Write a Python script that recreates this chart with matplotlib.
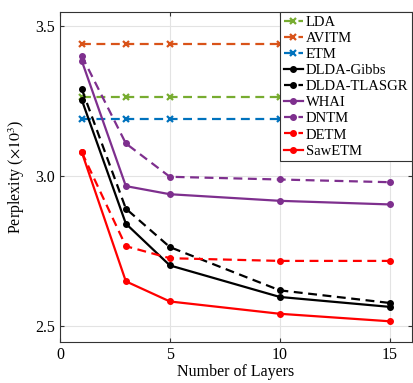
import matplotlib
matplotlib.use('Agg')
import matplotlib.pyplot as plt

plt.rcParams['font.family'] = ['Liberation Serif', 'DejaVu Serif']
plt.rcParams['mathtext.fontset'] = 'stix'

layers = [1, 3, 5, 10, 15]
layers_flat = [1, 3, 5, 10]

lda = [3.264, 3.264, 3.264, 3.264]
avitm = [3.441, 3.441, 3.441, 3.441]
etm = [3.189, 3.189, 3.189, 3.189]
dlda_gibbs = [3.253, 2.842, 2.703, 2.598, 2.565]
dlda_tlasgr = [3.289, 2.892, 2.764, 2.620, 2.578]
whai = [3.383, 2.967, 2.940, 2.918, 2.906]
dntm = [3.400, 3.109, 2.998, 2.989, 2.980]
detm = [3.079, 2.767, 2.727, 2.718, 2.718]
sawetm = [3.079, 2.650, 2.583, 2.542, 2.517]

green = '#77AC30'
orange = '#D95319'
blue = '#0072BD'
purple = '#7E2F8E'

fig = plt.figure(figsize=(4.13, 3.83), dpi=100)
ax = fig.add_axes([0.145, 0.107, 0.852, 0.862])

lw = 1.6
dash = (4, 2.5)
ax.plot(layers_flat, lda, '--x', color=green, lw=lw, ms=5, mew=1.6, dashes=dash, label='LDA')
ax.plot(layers_flat, avitm, '--x', color=orange, lw=lw, ms=5, mew=1.6, dashes=dash, label='AVITM')
ax.plot(layers_flat, etm, '--x', color=blue, lw=lw, ms=5, mew=1.6, dashes=dash, label='ETM')
ax.plot(layers, dlda_gibbs, '-o', color='k', lw=lw, ms=4, label='DLDA-Gibbs')
ax.plot(layers, dlda_tlasgr, '--o', color='k', lw=lw, ms=4, dashes=dash, label='DLDA-TLASGR')
ax.plot(layers, whai, '-o', color=purple, lw=lw, ms=4, label='WHAI')
ax.plot(layers, dntm, '--o', color=purple, lw=lw, ms=4, dashes=dash, label='DNTM')
ax.plot(layers, detm, '--o', color='r', lw=lw, ms=4, dashes=dash, label='DETM')
ax.plot(layers, sawetm, '-o', color='r', lw=lw, ms=4, label='SawETM')

ax.set_xlim(0, 16)
ax.set_ylim(2.448, 3.547)
ax.set_xticks([0, 5, 10, 15])
ax.set_yticks([2.5, 3.0, 3.5])
ax.set_yticklabels(['2.5', '3.0', '3.5'])
ax.grid(True, color='#e3e3e3', lw=0.8)
ax.set_axisbelow(True)
ax.tick_params(direction='in', labelsize=11.5, top=True, right=True, length=3, color='#333333')
for s in ax.spines.values():
    s.set_color('#333333')
    s.set_linewidth(0.8)

ax.set_xlabel('Number of Layers', fontsize=11.5, labelpad=1)
ax.set_ylabel('Perplexity ($\\times10^3$)', fontsize=11.5, labelpad=6)

leg = ax.legend(loc='upper right', fontsize=10.5, handlelength=1.3, handletextpad=0.2,
                labelspacing=0.2, borderpad=0.25, borderaxespad=0.0, fancybox=False,
                framealpha=1, edgecolor='#333333')
leg.get_frame().set_linewidth(0.8)

fig.savefig('out.png', dpi=100)
